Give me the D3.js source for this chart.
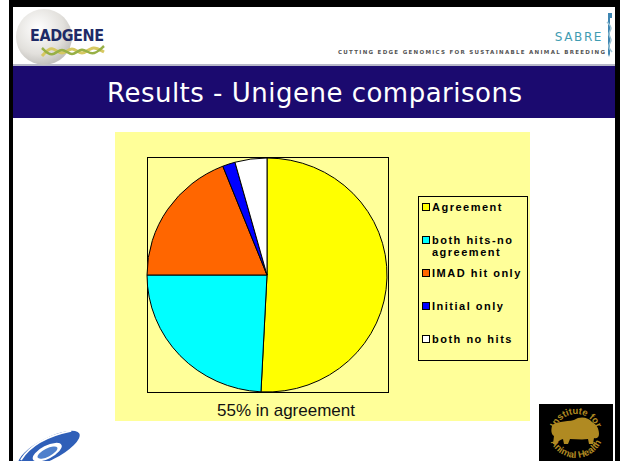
<!DOCTYPE html>
<html>
<head>
<meta charset="utf-8">
<script src="https://cdn.jsdelivr.net/npm/d3@7"></script>
<style>
  body { margin: 0; background: #fff; }
  svg { display: block; }
</style>
</head>
<body>
<svg id="chart" width="620" height="461"></svg>
<script>
// chart data
const categories = ["Agreement", "both hits-no agreement", "IMAD hit only", "Initial only", "both no hits"];
const values = [50.8, 24.2, 19.0, 1.7, 4.3];
const sliceColors = ["#ffff00", "#00ffff", "#ff6600", "#0000ff", "#ffffff"];
const legendLines = [["Agreement"], ["both hits-no", "agreement"], ["IMAD hit only"], ["Initial only"], ["both no hits"]];
const title = "Results - Unigene comparisons";
const caption = "55% in agreement";

const svg = d3.select("#chart");

// slide frame
svg.append("rect").attr("x", 9).attr("y", 0).attr("width", 611).attr("height", 7).attr("fill", "#000");
svg.append("rect").attr("x", 9).attr("y", 0).attr("width", 4).attr("height", 461).attr("fill", "#000");
svg.append("rect").attr("x", 615).attr("y", 0).attr("width", 5).attr("height", 461).attr("fill", "#000");

// header
svg.append("line").attr("x1", 13).attr("x2", 615).attr("y1", 65).attr("y2", 65)
    .attr("stroke", "#b8b8c8").attr("stroke-width", 2);
svg.append("rect").attr("x", 13).attr("y", 66).attr("width", 602).attr("height", 52).attr("fill", "#1b0a6f");
svg.append("text")
    .attr("x", 107).attr("y", 102)
    .attr("fill", "#fff")
    .attr("textLength", 415)
    .attr("lengthAdjust", "spacing")
    .style("font-family", "DejaVu Sans, sans-serif")
    .style("font-size", "26px")
    .text(title);

// EADGENE logo
const grad = svg.append("defs").append("radialGradient").attr("id", "sphere")
    .attr("cx", "40%").attr("cy", "35%").attr("r", "65%");
grad.append("stop").attr("offset", "0%").attr("stop-color", "#ffffff");
grad.append("stop").attr("offset", "70%").attr("stop-color", "#e2e0dc");
grad.append("stop").attr("offset", "100%").attr("stop-color", "#c4c2be");
svg.append("circle").attr("cx", 44).attr("cy", 37).attr("r", 28).attr("fill", "url(#sphere)");

const helix = d3.line().curve(d3.curveBasis);
svg.append("path")
    .attr("d", helix([[42, 56], [52, 45], [62, 57], [72, 45], [82, 57], [92, 45], [104, 52]]))
    .attr("fill", "none").attr("stroke", "#d6c862").attr("stroke-width", 3);
svg.append("path")
    .attr("d", helix([[42, 48], [52, 58], [62, 46], [72, 58], [82, 46], [92, 57], [104, 46]]))
    .attr("fill", "none").attr("stroke", "#97b046").attr("stroke-width", 2.5);
svg.append("text")
    .attr("x", 30).attr("y", 41)
    .attr("fill", "#1e2a66")
    .attr("textLength", 74)
    .style("font-family", "DejaVu Sans Condensed, sans-serif")
    .style("font-weight", "bold")
    .style("font-size", "16px")
    .text("EADGENE");

// SABRE logo
svg.append("text")
    .attr("x", 603).attr("y", 41)
    .attr("text-anchor", "end")
    .attr("fill", "#3f9cb2")
    .style("font-family", "DejaVu Sans, sans-serif")
    .style("font-size", "12px")
    .style("letter-spacing", "1.6px")
    .text("SABRE");
svg.append("text")
    .attr("x", 338).attr("y", 54)
    .attr("fill", "#555")
    .attr("textLength", 267)
    .attr("lengthAdjust", "spacing")
    .style("font-family", "DejaVu Sans, sans-serif")
    .style("font-weight", "bold")
    .style("font-size", "5.5px")
    .text("CUTTING EDGE GENOMICS FOR SUSTAINABLE ANIMAL BREEDING");
svg.append("path")
    .attr("d", "M608,13 L612,13 L612,18 L610,18 L610,54 L609,57 L608,54 Z")
    .attr("fill", "#3f86b2");
svg.append("path")
    .attr("d", helix([[607, 22], [613, 28], [607, 34], [613, 40], [607, 46], [612, 52]]))
    .attr("fill", "none").attr("stroke", "#9cc4d6").attr("stroke-width", 1.5);

// chart area
svg.append("rect").attr("x", 115).attr("y", 132).attr("width", 415).attr("height", 289).attr("fill", "#ffff99");
svg.append("rect").attr("x", 147.5).attr("y", 157.5).attr("width", 241).attr("height", 235)
    .attr("fill", "none").attr("stroke", "#000").attr("stroke-width", 1);

const pie = d3.pie().sort(null).value(d => d);
const arc = d3.arc().innerRadius(0).outerRadius(120);

const pieG = svg.append("g").attr("transform", "translate(267,275) scale(1,0.975)");
pieG.selectAll("path")
    .data(pie(values))
    .join("path")
    .attr("d", arc)
    .attr("fill", (d, i) => sliceColors[i])
    .attr("stroke", "#000")
    .attr("stroke-width", 1)
    .attr("vector-effect", "non-scaling-stroke");

// legend
svg.append("rect").attr("x", 418.5).attr("y", 196.5).attr("width", 109).attr("height", 164)
    .attr("fill", "none").attr("stroke", "#000").attr("stroke-width", 1);

const legendY = d3.scalePoint().domain(categories).range([207, 339]);
const items = svg.selectAll(".legend-item")
    .data(categories)
    .join("g")
    .attr("class", "legend-item")
    .attr("transform", d => `translate(422,${legendY(d)})`);
items.append("rect")
    .attr("x", 0.5).attr("y", -3.5).attr("width", 7).attr("height", 7)
    .attr("fill", (d, i) => sliceColors[i])
    .attr("stroke", "#000").attr("stroke-width", 1);
items.append("text")
    .attr("x", 10).attr("y", 4)
    .attr("fill", "#000")
    .style("font-family", "Liberation Sans, Arial, sans-serif")
    .style("font-weight", "bold")
    .style("font-size", "11px")
    .style("letter-spacing", "1.5px")
    .selectAll("tspan")
    .data((d, i) => legendLines[i])
    .join("tspan")
    .attr("x", 10)
    .attr("dy", (d, j) => j === 0 ? 0 : 12)
    .text(d => d);

svg.append("text")
    .attr("x", 286).attr("y", 416)
    .attr("text-anchor", "middle")
    .attr("fill", "#111")
    .style("font-family", "Liberation Sans, Arial, sans-serif")
    .style("font-size", "17px")
    .text(caption);

// EU framework logo
const eu = svg.append("g").attr("transform", "translate(49,449) rotate(-27)");
eu.append("ellipse").attr("rx", 34).attr("ry", 11).attr("fill", "#2f5fb8");
eu.append("ellipse").attr("cx", -3).attr("cy", 2).attr("rx", 16).attr("ry", 6.5).attr("fill", "#fff");
eu.append("ellipse").attr("cx", -3).attr("cy", 2.5).attr("rx", 11).attr("ry", 4).attr("fill", "#4f80cc");
eu.append("path").attr("d", "M-30,-3 Q-8,-16 28,-6").attr("fill", "none")
    .attr("stroke", "#fff").attr("stroke-width", 1.8);

// Institute for Animal Health logo
svg.append("rect").attr("x", 539).attr("y", 404).attr("width", 74).attr("height", 57).attr("fill", "#000");
const iah = svg.append("g").attr("transform", "translate(576,432)");
iah.append("path").attr("id", "iahTop").attr("d", "M-22,4 A22,22 0 0 1 22,4").attr("fill", "none");
iah.append("path").attr("id", "iahBot").attr("d", "M-28,-2 A28,28 0 0 0 28,-2").attr("fill", "none");
iah.append("text")
    .attr("fill", "#b08a22")
    .style("font-family", "Liberation Sans, Arial, sans-serif")
    .style("font-weight", "bold")
    .style("font-size", "9.5px")
    .append("textPath").attr("href", "#iahTop").attr("startOffset", "50%").attr("text-anchor", "middle")
    .text("Institute for");
iah.append("text")
    .attr("fill", "#b08a22")
    .style("font-family", "Liberation Sans, Arial, sans-serif")
    .style("font-weight", "bold")
    .style("font-size", "9.5px")
    .append("textPath").attr("href", "#iahBot").attr("startOffset", "50%").attr("text-anchor", "middle")
    .text("Animal Health");
iah.append("path")
    .attr("d", "M-24,-6 C-22,-11 -10,-10 -2,-12 C4,-16 12,-15 16,-10 C20,-8 23,-4 23,2 C23,6 20,7 18,6 L17,12 L13,12 L12,7 C6,8 0,7 -6,7 L-8,12 L-12,12 L-13,7 C-16,8 -18,9 -19,12 L-23,12 L-22,4 C-25,2 -25,-2 -24,-6 Z")
    .attr("fill", "#b08a22");
</script>
</body>
</html>
